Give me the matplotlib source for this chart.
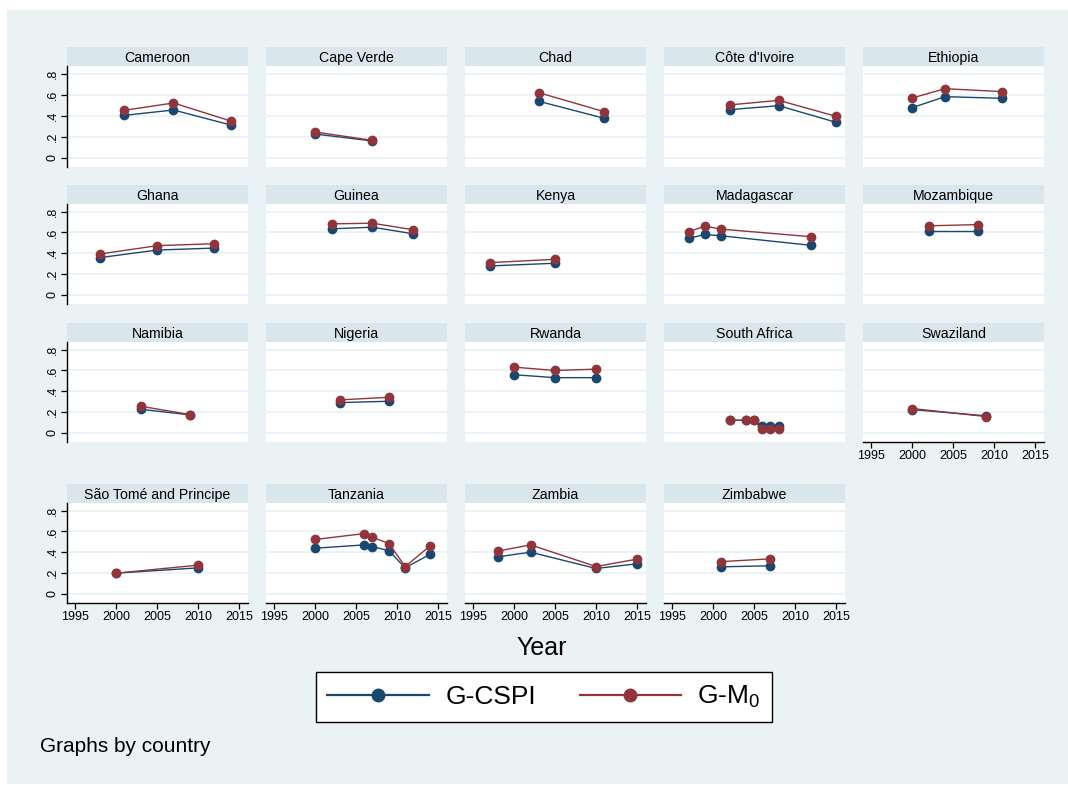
import matplotlib
matplotlib.use("Agg")
import matplotlib.pyplot as plt
from matplotlib.lines import Line2D
from matplotlib.patches import Rectangle

plt.rcParams['font.family'] = ['Liberation Sans', 'DejaVu Sans']
plt.rcParams['mathtext.fontset'] = 'custom'
plt.rcParams['mathtext.rm'] = 'Liberation Sans'
plt.rcParams['mathtext.it'] = 'Liberation Sans'

countries = ["Cameroon", "Cape Verde", "Chad", "Côte d'Ivoire", "Ethiopia",
             "Ghana", "Guinea", "Kenya", "Madagascar", "Mozambique",
             "Namibia", "Nigeria", "Rwanda", "South Africa", "Swaziland",
             "São Tomé and Principe", "Tanzania", "Zambia", "Zimbabwe"]

years = [
    [2001, 2007, 2014],
    [2000, 2007],
    [2003, 2011],
    [2002, 2008, 2015],
    [2000, 2004, 2011],
    [1998, 2005, 2012],
    [2002, 2007, 2012],
    [1997, 2005],
    [1997, 1999, 2001, 2012],
    [2002, 2008],
    [2003, 2009],
    [2003, 2009],
    [2000, 2005, 2010],
    [2002, 2004, 2005, 2006, 2007, 2008],
    [2000, 2009],
    [2000, 2010],
    [2000, 2006, 2007, 2009, 2011, 2014],
    [1998, 2002, 2010, 2015],
    [2001, 2007],
]

g_cspi = [
    [0.403, 0.454, 0.311],
    [0.225, 0.159],
    [0.537, 0.375],
    [0.457, 0.495, 0.337],
    [0.476, 0.581, 0.565],
    [0.357, 0.430, 0.449],
    [0.634, 0.650, 0.586],
    [0.277, 0.303],
    [0.542, 0.580, 0.567, 0.475],
    [0.612, 0.612],
    [0.226, 0.172],
    [0.290, 0.303],
    [0.558, 0.530, 0.530],
    [0.120, 0.120, 0.120, 0.061, 0.061, 0.061],
    [0.223, 0.163],
    [0.198, 0.249],
    [0.438, 0.470, 0.454, 0.413, 0.250, 0.378],
    [0.355, 0.400, 0.243, 0.288],
    [0.259, 0.269],
]

g_m0 = [
    [0.451, 0.521, 0.349],
    [0.244, 0.165],
    [0.619, 0.438],
    [0.502, 0.546, 0.394],
    [0.568, 0.657, 0.629],
    [0.392, 0.472, 0.491],
    [0.682, 0.688, 0.625],
    [0.309, 0.341],
    [0.606, 0.660, 0.631, 0.558],
    [0.663, 0.675],
    [0.255, 0.175],
    [0.316, 0.341],
    [0.631, 0.599, 0.612],
    [0.120, 0.120, 0.120, 0.032, 0.032, 0.032],
    [0.233, 0.156],
    [0.198, 0.275],
    [0.522, 0.579, 0.544, 0.483, 0.262, 0.458],
    [0.410, 0.470, 0.262, 0.333],
    [0.309, 0.336],
]

y_ticks = [0, 0.2, 0.4, 0.6, 0.8]
y_ticklabels = ["0", ".2", ".4", ".6", ".8"]
x_ticks = [1995, 2000, 2005, 2010, 2015]
x_ticklabels = ["1995", "2000", "2005", "2010", "2015"]

C_CSPI = "#1a476f"
C_M0 = "#90353b"
BG = "#eaf2f3"
HEAD = "#d9e6eb"

W, H = 1068, 785
fig = plt.figure(figsize=(W / 100, H / 100), dpi=100, facecolor="white")

# outer graph region
fig.patches.append(Rectangle((7 / W, 1 - 784 / H), (W - 7) / W, (784 - 10) / H,
                             transform=fig.transFigure, facecolor=BG,
                             edgecolor="none", zorder=-10))

col_left = [67, 266, 465, 664, 863]
pw = 181
rows = [(66, 167), (204, 304), (342, 442), (503, 603)]
head_h = 19

ncols = 5
n = len(countries)
for i, name in enumerate(countries):
    r, c = divmod(i, ncols)
    top, bot = rows[r]
    ax = fig.add_axes([col_left[c] / W, 1 - bot / H, pw / W, (bot - top) / H])
    ax.set_facecolor("white")
    ax.set_xlim(1994.0, 2016.1)
    ax.set_ylim(-0.089, 0.873)
    for yv in y_ticks:
        ax.axhline(yv, color=BG, lw=1.3, zorder=0)
    ax.plot(years[i], g_cspi[i], color=C_CSPI, lw=1.0, marker="o", ms=6,
            mec=C_CSPI, mfc=C_CSPI, zorder=3)
    ax.plot(years[i], g_m0[i], color=C_M0, lw=1.0, marker="o", ms=6,
            mec=C_M0, mfc=C_M0, zorder=4)
    for s in ax.spines.values():
        s.set_visible(False)
    # header strip
    hfrac = head_h / (bot - top)
    ax.add_patch(Rectangle((0, 1), 1, hfrac, transform=ax.transAxes,
                           facecolor=HEAD, edgecolor="none", clip_on=False))
    ax.text(0.5, 1 + hfrac / 2, name, transform=ax.transAxes, ha="center",
            va="center_baseline", fontsize=10.2, color="black")
    # y axis
    if c == 0:
        ax.spines["left"].set_visible(True)
        ax.spines["left"].set_color("black")
        ax.spines["left"].set_linewidth(1.0)
        ax.set_yticks(y_ticks)
        ax.set_yticklabels(y_ticklabels, rotation=90, va="center")
        ax.tick_params(axis="y", length=4, width=0.9, pad=2, labelsize=9)
    else:
        ax.set_yticks([])
    # x axis
    below = i + ncols
    if below >= n:
        ax.spines["bottom"].set_visible(True)
        ax.spines["bottom"].set_color("black")
        ax.spines["bottom"].set_linewidth(1.0)
        ax.set_xticks(x_ticks)
        ax.set_xticklabels(x_ticklabels)
        ax.tick_params(axis="x", length=4, width=0.9, pad=2, labelsize=9)
    else:
        ax.set_xticks([])

fig.text(542 / W, 1 - 648 / H, "Year", ha="center", va="center", fontsize=18)

handles = [
    Line2D([], [], color=C_CSPI, lw=1.6, marker="o", ms=9, mfc=C_CSPI, mec=C_CSPI),
    Line2D([], [], color=C_M0, lw=1.6, marker="o", ms=9, mfc=C_M0, mec=C_M0),
]
leg = fig.legend(handles, ["G-CSPI", r"G-M$_0$"],
                 loc="center",
                 bbox_to_anchor=(544 / W, 1 - 697 / H), ncol=2,
                 fontsize=19, frameon=True, fancybox=False, edgecolor="black",
                 framealpha=1, handlelength=3.85, handletextpad=0.62,
                 columnspacing=1.65, borderpad=0.45)
leg.get_frame().set_linewidth(1.0)

fig.text(40 / W, 1 - 747 / H, "Graphs by country", ha="left", va="center",
         fontsize=15)

fig.savefig("out.png", dpi=100, facecolor="white")
